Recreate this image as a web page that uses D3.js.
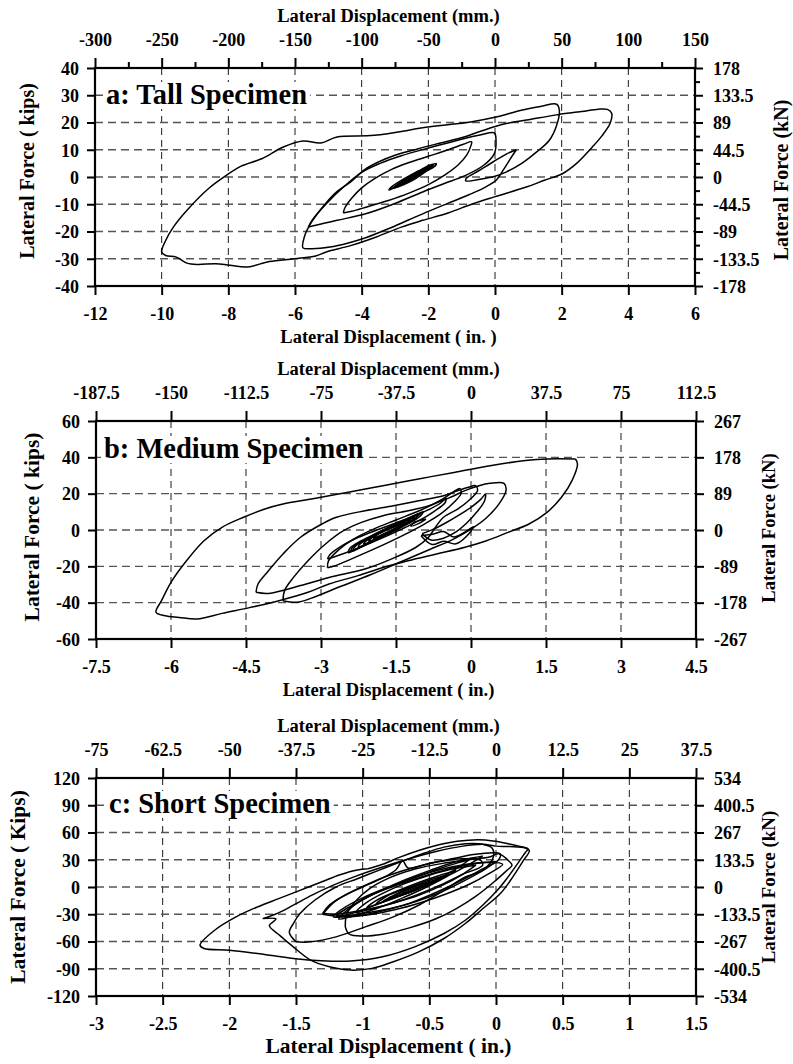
<!DOCTYPE html>
<html>
<head>
<meta charset="utf-8">
<script src="https://cdn.jsdelivr.net/npm/d3@7"></script>
<style>
body { margin: 0; background: #fff; }
text { font-family: "Liberation Serif", "Times New Roman", serif; font-weight: bold; fill: #000; }
</style>
</head>
<body>
<script>
// ---- tall specimen (a) ----
var tallXTicks = [-12, -10, -8, -6, -4, -2, 0, 2, 4, 6];
var tallYTicks = [-40, -30, -20, -10, 0, 10, 20, 30, 40];
var tallMmTicks = [-300, -250, -200, -150, -100, -50, 0, 50, 100, 150];
var tallMmMinor = [-275, -225, -175, -125, -75, -25, 25, 75, 125];
var tallKnTicks = [178, 133.5, 89, 44.5, 0, -44.5, -89, -133.5, -178];
var tallKnMinor = [155.75, 111.25, 66.75, 22.25, -22.25, -66.75, -111.25, -155.75];
var tallLoops = [
  [[-2.05,2.8],[-2.3,1.0],[-2.6,-1.0],[-2.85,-2.7],[-2.72,-2.2],[-2.45,-0.3],[-2.2,1.6],[-2.05,2.8]],
  [[-2.1,2.2],[-2.35,0.6],[-2.65,-1.5],[-2.8,-2.4],[-2.62,-1.2],[-2.35,0.5],[-2.1,2.2]],
  [[-1.95,3.7],[-2.25,1.2],[-2.6,-1.5],[-2.98,-3.7],[-2.85,-2.6],[-2.5,0.1],[-2.2,2.3],[-1.95,3.7]],
  [[-1.9,4.1],[-2.15,1.8],[-2.55,-1.2],[-3.02,-4.0],[-2.9,-2.6],[-2.45,0.6],[-2.1,3.0],[-1.9,4.1]],
  [[-1.82,4.5],[-2.1,1.8],[-2.5,-1.4],[-2.9,-3.6],[-3.08,-4.3],[-2.95,-3.0],[-2.55,0.2],[-2.15,3.0],[-1.82,4.5]],
  [[-1.75,5.0],[-1.8,4.0],[-2.2,1.4],[-2.7,-1.8],[-3.05,-4.0],[-3.18,-4.8],[-3.12,-3.8],[-2.75,-0.8],[-2.3,2.2],[-1.95,4.4],[-1.75,5.0]],
  [[-4.55,-13.2],[-4.5,-11.2],[-4.3,-7.8],[-4.0,-4.0],[-3.6,-0.5],[-3.1,2.8],[-2.6,5.2],[-2.0,7.6],[-1.4,10.0],[-0.95,12.0],[-0.7,12.9],
   [-0.72,11.6],[-0.85,8.0],[-1.1,4.5],[-1.5,0.8],[-2.0,-2.8],[-2.6,-6.0],[-3.2,-8.6],[-3.8,-10.8],[-4.3,-12.6],[-4.55,-13.2]],
  [[-5.6,-18.4],[-5.49,-15.9],[-5.06,-9.8],[-4.52,-3.4],[-3.99,1.8],[-3.45,5.0],[-2.81,7.8],[-1.95,10.8],[-1.09,13.6],[-0.45,15.4],[-0.02,16.2],
   [0.03,13.5],[-0.02,8.6],[-0.34,4.3],[-0.88,0.6],[-1.52,-2.4],[-2.17,-5.5],[-3.02,-9.8],[-3.88,-13.5],[-4.74,-15.9],[-5.38,-17.7],[-5.6,-18.4]],
  [[0.64,10.0],[0.45,6.5],[0.25,2.6],[0.05,-1.0],[-0.3,-3.8],[-0.8,-6.6],[-1.4,-9.6],[-2.0,-12.6],[-2.6,-15.8],[-3.2,-19.0],[-3.88,-22.3],[-4.4,-24.2],[-4.95,-25.7],[-5.49,-26.3],[-5.76,-26.0],
   [-5.72,-22.0],[-5.55,-17.5],[-5.2,-11.5],[-4.8,-6.0],[-4.3,-1.5],[-3.9,2.8],[-3.5,5.5],[-3.0,8.0],[-2.3,10.4],[-1.6,12.6],[-0.9,14.8],[-0.43,16.8],[0.33,19.6],[1.0,21.0],[1.85,22.8],[2.6,24.0],[3.1,24.9],[3.37,24.8],
   [3.5,23.4],[3.45,19.6],[3.2,15.0],[2.92,11.0],[2.44,4.9],[2.02,1.2],[1.48,-1.2],[0.94,-3.7],[-0.02,-7.3],[-0.66,-9.8],[-1.41,-13.2],[-2.17,-15.9],[-2.81,-18.4],[-3.56,-22.0],[-4.31,-25.1],[-5.06,-27.5],[-5.38,-29.0],[-6.02,-30.0],[-6.77,-31.0],[-7.42,-33.0],[-7.95,-32.4],[-8.38,-31.8],[-8.92,-32.1],[-9.24,-31.6],[-9.56,-29.4],[-9.88,-28.8],[-10.0,-27.5],
   [-9.88,-23.3],[-9.65,-18.4],[-9.24,-12.2],[-8.6,-4.3],[-8.06,0.6],[-7.63,3.9],[-7.0,6.7],[-6.35,11.0],[-5.76,13.2],[-5.22,12.5],[-4.74,14.7],[-3.62,15.3],[-1.95,18.4],[-0.73,20.2],[0.03,22.0],[0.79,24.5],[1.4,26.0],[1.85,26.7],
   [1.93,24.5],[1.85,19.0],[1.63,13.5],[1.25,9.2],[0.79,4.9],[0.33,1.8],[0.0,0.3],[-0.4,-0.7],[-0.88,-1.4],[-0.85,-0.4],[-0.5,2.2],[-0.05,5.6],[0.35,8.5],[0.64,10.0]]
];

// ---- medium specimen (b) ----
var mediumXTicks = [-7.5, -6, -4.5, -3, -1.5, 0, 1.5, 3, 4.5];
var mediumYTicks = [-60, -40, -20, 0, 20, 40, 60];
var mediumMmTicks = [-187.5, -150, -112.5, -75, -37.5, 0, 37.5, 75, 112.5];
var mediumKnTicks = [267, 178, 89, 0, -89, -178, -267];
var mediumLoops = [
  [[2.09,39.1],[2.13,36.3],[2.02,27.2],[1.81,18],[1.52,9.7],[1.16,3.3],[0.74,-1.3],[0.31,-5.9],[-0.12,-9.5],[-0.69,-13.2],[-1.26,-16.9],[-1.76,-20.6],[-2.26,-25.1],[-2.84,-29.7],[-3.26,-34.3],[-3.84,-38.9],[-4.41,-42.6],[-4.98,-45.9],[-5.48,-49],[-5.84,-48.1],[-6.12,-47.2],[-6.3,-45.3],
   [-6.19,-38.9],[-5.98,-27.9],[-5.69,-16.9],[-5.34,-5.9],[-4.98,1.5],[-4.55,7.0],[-4.12,11.6],[-3.76,14.3],[-3.19,17.1],[-2.48,20.7],[-1.76,24.4],[-1.05,28.1],[-0.34,31.7],[0.38,35.4],[1.09,38.2],[1.52,39.1],[2.09,39.1]],
  [[-4.3,-34.3],[-4.26,-29.7],[-4.05,-22.4],[-3.76,-13.2],[-3.41,-4.0],[-2.98,3.3],[-2.69,7.0],[-2.12,10.6],[-1.55,13.4],[-1.05,16.1],[-0.55,18.9],[-0.26,21.7],[-0.05,23.5],[0.09,24.4],
   [0.13,21.7],[-0.05,16.1],[-0.26,11.6],[-0.55,7.0],[-0.7,2.0],[-0.85,-4.0],[-1.1,-9.5],[-1.55,-15.5],[-2.12,-21.5],[-2.84,-26.1],[-3.41,-30.6],[-4.05,-34.9],[-4.3,-34.3]],
  [[-3.76,-38.9],[-3.73,-33.4],[-3.55,-26.1],[-3.26,-16.9],[-2.91,-7.7],[-2.55,-0.4],[-2.19,4.2],[-1.76,7.9],[-1.26,10.6],[-0.84,13.4],[-0.41,18.0],[-0.12,21.7],[0.16,24.4],[0.38,25.7],[0.66,25.7],
   [0.7,21.7],[0.55,14],[0.3,6.5],[0.0,0.5],[-0.35,-5],[-0.85,-11],[-1.4,-17.5],[-2.0,-24.5],[-2.6,-31],[-3.19,-37.5],[-3.48,-39.8],[-3.76,-38.9]],
  [[-2.87,-20.8],[-2.85,-17],[-2.65,-11],[-2.35,-5],[-1.95,0.5],[-1.5,5.5],[-1.0,11],[-0.6,16.5],[-0.35,21],[-0.22,22.8],
   [-0.2,20],[-0.35,15],[-0.6,9],[-0.95,3],[-1.4,-3.5],[-1.9,-10],[-2.4,-16],[-2.75,-20],[-2.87,-20.8]],
  [[-2.87,-16],[-2.82,-13.5],[-2.6,-9],[-2.25,-4],[-1.8,0.8],[-1.35,5.5],[-0.9,10.5],[-0.6,15],[-0.5,17.5],
   [-0.52,15],[-0.75,10],[-1.05,5],[-1.5,-1],[-2.0,-7],[-2.5,-12.5],[-2.87,-16]],
  [[-0.95,10.2],[-1.0,8.0],[-1.25,3.5],[-1.6,-1.5],[-2.0,-6.5],[-2.3,-10.5],[-2.45,-12.5],[-2.42,-10.0],[-2.2,-6.0],[-1.85,-1.2],[-1.5,3.5],[-1.2,7.2],[-0.95,10.2]],
  [[-1.0,9.2],[-1.1,6.8],[-1.38,2.6],[-1.72,-2.6],[-2.08,-7.6],[-2.4,-11.8],[-2.36,-9.2],[-2.12,-5.4],[-1.78,-0.4],[-1.42,4.2],[-1.15,7.8],[-1.0,9.2]],
  [[-1.05,8.5],[-1.12,6.2],[-1.4,2.0],[-1.75,-3.2],[-2.1,-8.2],[-2.35,-11],[-2.3,-8.6],[-2.05,-4.8],[-1.7,0.4],[-1.35,4.8],[-1.05,8.5]],
  [[-1.12,7.2],[-1.2,5.0],[-1.5,0.6],[-1.85,-4.6],[-2.25,-9.2],[-2.18,-6.8],[-1.9,-2.6],[-1.55,2.6],[-1.25,6.0],[-1.12,7.2]],
  [[-1.2,5.8],[-1.3,3.6],[-1.6,-0.6],[-1.95,-5.6],[-2.15,-7.8],[-2.05,-5.0],[-1.75,-0.8],[-1.45,3.2],[-1.2,5.8]],
  [[-1.3,4.4],[-1.4,2.2],[-1.7,-2.2],[-2.05,-6.2],[-1.95,-3.6],[-1.65,0.4],[-1.3,4.4]],
  [[-1.42,3.0],[-1.55,0.6],[-1.8,-2.8],[-1.95,-4.6],[-1.85,-2.0],[-1.6,1.4],[-1.42,3.0]],
  [[-0.9,6.0],[-1.05,3.5],[-1.2,2.2],[-1.15,4.0],[-0.9,6.0]],
  [[-0.98,-2],[-0.75,0.5],[-0.5,4.0],[-0.25,8.0],[0.0,12.5],[0.2,17],[0.29,19.8],[0.27,16],[0.12,10],[-0.08,4],[-0.3,-1],[-0.55,-4.5],[-0.8,-5.5],[-0.98,-2]],
  [[-1.0,-3.2],[-0.75,-2.2],[-0.55,-0.8],[-0.35,-3.8],[-0.15,-1.6],[0.05,1.8],[-0.08,-3.2],[-0.3,-7.6],[-0.55,-6.2],[-0.78,-8.0],[-1.0,-3.2]]
];

// ---- short specimen (c) ----
var shortXTicks = [-3, -2.5, -2, -1.5, -1, -0.5, 0, 0.5, 1, 1.5];
var shortYTicks = [-120, -90, -60, -30, 0, 30, 60, 90, 120];
var shortMmTicks = [-75, -62.5, -50, -37.5, -25, -12.5, 0, 12.5, 25, 37.5];
var shortKnTicks = [534, 400.5, 267, 133.5, 0, -133.5, -267, -400.5, -534];
var shortLoops = [
  [[-0.96,20.1],[-1.04,18.8],[-1.17,13.5],[-1.31,5.5],[-1.47,-3.7],[-1.63,-12.8],[-1.79,-22],[-1.95,-32.9],[-2.11,-47.6],[-2.22,-64],[-2.19,-67.7],[-2.0,-69.5],[-1.79,-73.2],[-1.52,-78.7],[-1.31,-81.2],[-1.09,-81.5],
   [-0.85,-76.8],[-0.61,-65.9],[-0.39,-51.2],[-0.23,-36.6],[-0.1,-20.1],[0.01,-3.7],[0.09,11],[0.17,27.4],[0.22,38],[0.24,42.1],[0.2,44],[0.09,47.6],[-0.02,50.6],[-0.13,52.0],[-0.29,50.3],[-0.45,45.7],[-0.58,40.2],[-0.72,32.9],[-0.85,25],[-0.96,20.1]],
  [[-1.75,-34.8],[-1.65,-35.3],[-1.7,-42.5],[-1.62,-53.5],[-1.52,-65.9],[-1.39,-80.5],[-1.25,-87.8],[-1.09,-91.5],[-0.93,-89.6],[-0.77,-82.3],[-0.58,-71.4],[-0.39,-56.7],[-0.23,-40.2],[-0.1,-24],[0.04,-6],[0.13,12],[0.2,28],[0.25,40],
   [0.22,43],[0.1,44.5],[0.0,45],[-0.1,47],[-0.25,45],[-0.45,39],[-0.65,31],[-0.85,22],[-1.05,12],[-1.22,2],[-1.38,-9],[-1.52,-20],[-1.64,-29],[-1.75,-34.8]],
  [[-1.5,-60.4],[-1.55,-50],[-1.52,-40.2],[-1.47,-29.3],[-1.36,-14.6],[-1.2,0],[-1.04,9.1],[-0.88,18.3],[-0.72,27.4],[-0.55,36.6],[-0.39,43.9],[-0.23,47.6],[-0.1,47],[-0.03,43],[-0.02,33],
   [-0.1,18.3],[-0.23,11],[-0.39,-3.7],[-0.58,-20.1],[-0.77,-32.9],[-0.98,-43.9],[-1.2,-54.9],[-1.39,-60.4],[-1.5,-60.4]],
  [[-1.13,-44],[-1.1,-52],[-1.0,-54],[-0.85,-52],[-0.65,-45],[-0.45,-35],[-0.3,-24],[-0.15,-10],[-0.02,5],[0.08,18],[0.12,24],[0.1,28],[0.02,36.5],
   [-0.05,33],[-0.2,30],[-0.4,26],[-0.6,20],[-0.8,10],[-0.95,-2],[-1.05,-15],[-1.12,-30],[-1.13,-44]],
  [[-1.2,-31],[-1.1,-22],[-0.95,-10],[-0.78,0],[-0.6,9],[-0.42,17],[-0.25,23],[-0.08,27],[0.05,25],[-0.05,15],[-0.2,3],[-0.38,-8],[-0.56,-17],[-0.76,-25],[-0.98,-31],[-1.2,-31]],
  [[-1.3,-29],[-1.25,-20],[-1.12,-8],[-0.95,4],[-0.78,14],[-0.6,22],[-0.42,28],[-0.25,31],[-0.12,30],[-0.1,24],[-0.25,14],[-0.42,2],[-0.6,-9],[-0.8,-19],[-1.02,-26],[-1.2,-30],[-1.3,-29]],
  [[-1.3,-30],[-1.2,-15],[-1.0,0],[-0.85,10],[-0.75,19],[-0.7,29],[-0.66,21],[-0.5,26],[-0.3,32],[-0.15,36],[0.03,36.5],[0.02,30],[-0.1,20],[-0.25,8],[-0.45,-6],[-0.65,-18],[-0.9,-28],[-1.1,-33],[-1.3,-30]],
  [[0.0,28],[-0.1,18],[-0.25,6],[-0.42,-6],[-0.6,-16],[-0.8,-24],[-1.0,-29],[-1.22,-33],[-1.15,-24],[-1.0,-12],[-0.82,-1],[-0.62,10],[-0.42,19],[-0.22,25],[0.0,28]],
  [[-0.2,30],[-0.3,20],[-0.45,8],[-0.62,-4],[-0.8,-14],[-0.98,-24],[-1.12,-30],[-1.08,-22],[-0.95,-10],[-0.8,0],[-0.62,10],[-0.45,19],[-0.3,26],[-0.2,30]],
  [[-0.15,24],[-0.25,14],[-0.4,2],[-0.58,-9],[-0.78,-18],[-0.98,-26],[-1.05,-28],[-0.98,-18],[-0.85,-7],[-0.68,4],[-0.5,13],[-0.32,20],[-0.15,24]],
  [[-0.1,34],[-0.2,25],[-0.35,13],[-0.52,0],[-0.7,-12],[-0.9,-24],[-1.1,-33],[-1.18,-35],[-1.12,-26],[-1.0,-14],[-0.85,-3],[-0.68,8],[-0.5,18],[-0.32,27],[-0.18,32],[-0.1,34]],
  [[-0.3,18],[-0.4,10],[-0.55,0],[-0.72,-10],[-0.88,-18],[-0.97,-23],[-0.9,-15],[-0.75,-5],[-0.58,5],[-0.42,13],[-0.3,18]],
  [[-0.35,14],[-0.45,6],[-0.6,-3],[-0.75,-11],[-0.9,-19],[-0.83,-11],[-0.7,-3],[-0.55,5],[-0.42,11],[-0.35,14]],
  [[-0.4,10],[-0.5,3],[-0.63,-5],[-0.78,-12],[-0.85,-16],[-0.75,-8],[-0.62,0],[-0.5,6],[-0.4,10]],
  [[-0.45,7],[-0.55,1],[-0.66,-6],[-0.78,-12],[-0.7,-5],[-0.6,1],[-0.5,5],[-0.45,7]],
  [[-0.5,4],[-0.58,-1],[-0.68,-7],[-0.74,-10],[-0.66,-4],[-0.57,1],[-0.5,4]]
];

var svg = d3.select("body").append("svg").attr("width", 793).attr("height", 1064);

var panels = [
  { xTicks: tallXTicks, yTicks: tallYTicks, mmTicks: tallMmTicks, mmMinor: tallMmMinor, knTicks: tallKnTicks, knMinor: tallKnMinor, loops: tallLoops,
    left: 95, right: 695, top: 68, bottom: 286, title: "a: Tall Specimen", titleX: 106, titleY: 104, titleSize: 28.5,
    xLabel: "Lateral Displacement ( in. )", xLabelSize: 18.5, yLabel: "Lateral Force ( kips)", yLabelX: 34, yLabelY: 171, yLabelSize: 20,
    rLabelX: 788, rLabelY: 180, rLabelSize: 20 },
  { xTicks: mediumXTicks, yTicks: mediumYTicks, mmTicks: mediumMmTicks, knTicks: mediumKnTicks, loops: mediumLoops,
    left: 96, right: 696, top: 421, bottom: 639, title: "b: Medium Specimen", titleX: 104, titleY: 458, titleSize: 28.5,
    xLabel: "Lateral Displacement ( in.)", xLabelSize: 18.5, yLabel: "Lateral Force ( kips)", yLabelX: 39, yLabelY: 527, yLabelSize: 21.5,
    rLabelX: 775, rLabelY: 528, rLabelSize: 18.6 },
  { xTicks: shortXTicks, yTicks: shortYTicks, mmTicks: shortMmTicks, knTicks: shortKnTicks, loops: shortLoops,
    left: 96, right: 696, top: 778, bottom: 996, title: "c: Short Specimen", titleX: 109, titleY: 813, titleSize: 28.5,
    xLabel: "Lateral Displacement ( in.)", xLabelSize: 21.5, yLabel: "Lateral Force ( Kips)", yLabelX: 25, yLabelY: 887, yLabelSize: 21.5,
    rLabelX: 775, rLabelY: 887, rLabelSize: 19 }
];

function styleAxis(a) {
  a.attr("font-size", 18).attr("font-family", null);
  a.select(".domain").remove();
  a.selectAll(".tick line").attr("stroke", "#000").attr("stroke-width", 2);
}

function drawPanel(p) {
  var xd = [p.xTicks[0], p.xTicks[p.xTicks.length - 1]];
  var yd = [p.yTicks[0], p.yTicks[p.yTicks.length - 1]];
  var x = d3.scaleLinear().domain(xd).range([p.left, p.right]);
  var y = d3.scaleLinear().domain(yd).range([p.bottom, p.top]);
  var mm = d3.scaleLinear().domain([xd[0] * 25, xd[1] * 25]).range([p.left, p.right]);
  var kn = d3.scaleLinear().domain([yd[0] * 4.45, yd[1] * 4.45]).range([p.bottom, p.top]);
  var g = svg.append("g");

  // dashed grid
  g.append("g").selectAll("line").data(p.xTicks.slice(1, -1)).join("line")
    .attr("x1", d => x(d)).attr("x2", d => x(d)).attr("y1", p.top).attr("y2", p.bottom)
    .attr("stroke", "#1a1a1a").attr("stroke-width", 1).attr("stroke-dasharray", "7,5");
  g.append("g").selectAll("line").data(p.yTicks.slice(1, -1)).join("line")
    .attr("x1", p.left).attr("x2", p.right).attr("y1", d => y(d)).attr("y2", d => y(d))
    .attr("stroke", "#555").attr("stroke-width", 1.3).attr("stroke-dasharray", "8,5");

  // panel title on white
  var t = g.append("text").attr("x", p.titleX).attr("y", p.titleY)
    .style("font-size", p.titleSize + "px").text(p.title);
  var bb = t.node().getBBox();
  g.insert("rect", function () { return t.node(); })
    .attr("x", bb.x - 3).attr("y", bb.y + 3).attr("width", bb.width + 6).attr("height", bb.height - 4)
    .attr("fill", "#fff");

  // loops
  var line = d3.line().x(d => x(d[0])).y(d => y(d[1])).curve(d3.curveCatmullRom.alpha(0.5));
  g.append("g").selectAll("path").data(p.loops).join("path")
    .attr("d", line).attr("fill", "none").attr("stroke", "#000")
    .attr("stroke-width", 1.5).attr("stroke-linejoin", "round");

  // box
  g.append("rect").attr("x", p.left).attr("y", p.top)
    .attr("width", p.right - p.left).attr("height", p.bottom - p.top)
    .attr("fill", "none").attr("stroke", "#000").attr("stroke-width", 2.2);

  // axes
  var ab = g.append("g").attr("transform", "translate(0," + p.bottom + ")")
    .call(d3.axisBottom(x).tickValues(p.xTicks).tickSize(9).tickFormat(d => String(d)));
  styleAxis(ab);
  ab.selectAll(".tick text").attr("y", 34).attr("dy", null);

  var at = g.append("g").attr("transform", "translate(0," + p.top + ")")
    .call(d3.axisTop(mm).tickValues(p.mmTicks).tickSize(10).tickFormat(d => String(d)));
  styleAxis(at);
  at.selectAll(".tick text").attr("y", -22).attr("dy", null);

  var al = g.append("g").attr("transform", "translate(" + p.left + ",0)")
    .call(d3.axisLeft(y).tickValues(p.yTicks).tickSize(8).tickFormat(d => String(d)));
  styleAxis(al);
  al.selectAll(".tick text").attr("x", -16).attr("dy", "0.35em");

  var ar = g.append("g").attr("transform", "translate(" + p.right + ",0)")
    .call(d3.axisRight(kn).tickValues(p.knTicks).tickSize(8).tickFormat(d => String(d)));
  styleAxis(ar);
  ar.selectAll(".tick text").attr("x", 18).attr("dy", "0.35em");

  if (p.mmMinor) {
    var atm = g.append("g").attr("transform", "translate(0," + p.top + ")")
      .call(d3.axisTop(mm).tickValues(p.mmMinor).tickSize(6).tickFormat(""));
    styleAxis(atm);
  }
  if (p.knMinor) {
    var arm = g.append("g").attr("transform", "translate(" + p.right + ",0)")
      .call(d3.axisRight(kn).tickValues(p.knMinor).tickSize(5).tickFormat(""));
    styleAxis(arm);
  }

  // axis titles
  g.append("text").attr("x", 388.5).attr("y", p.top - 46).attr("text-anchor", "middle")
    .style("font-size", "18.5px").text("Lateral Displacement (mm.)");
  g.append("text").attr("x", 388.5).attr("y", p.bottom + 57).attr("text-anchor", "middle")
    .style("font-size", p.xLabelSize + "px").text(p.xLabel);
  g.append("text").attr("transform", "translate(" + p.yLabelX + "," + p.yLabelY + ") rotate(-90)")
    .attr("text-anchor", "middle").style("font-size", p.yLabelSize + "px").text(p.yLabel);
  g.append("text").attr("transform", "translate(" + p.rLabelX + "," + p.rLabelY + ") rotate(-90)")
    .attr("text-anchor", "middle").style("font-size", p.rLabelSize + "px").text("Lateral Force (kN)");
}

panels.forEach(drawPanel);
</script>
</body>
</html>
